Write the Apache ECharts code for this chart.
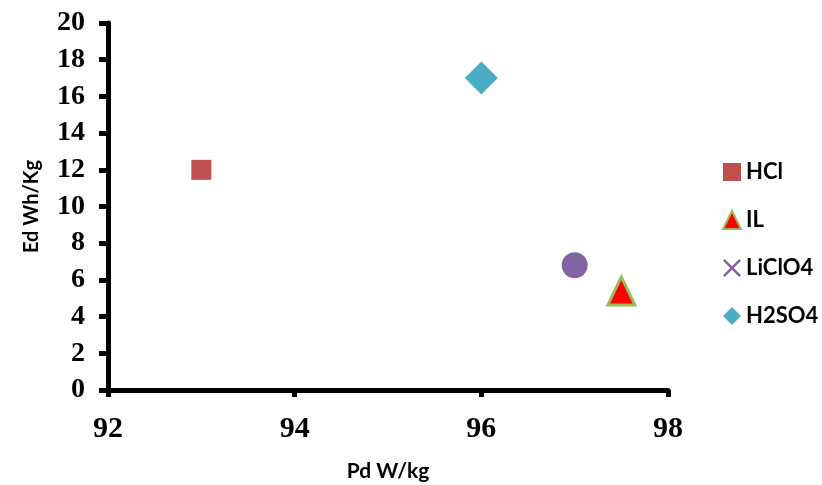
<!DOCTYPE html>
<html>
<head>
<meta charset="utf-8">
<script src="https://cdn.jsdelivr.net/npm/echarts@6/dist/echarts.min.js"></script>
<style>html,body{margin:0;padding:0;background:#fff}#c{width:822px;height:485px}</style>
</head>
<body>
<div id="c"></div>
<script>
const seriesNames = ['HCl', 'IL', 'LiClO4', 'H2SO4'];
const hclData = [[93, 12]];
const ilData = [[97.5, 5.4]];
const liclo4Data = [[97, 6.8]];
const h2so4Data = [[96, 17]];
const xTicks = [92, 94, 96, 98];
const yTicks = [0, 2, 4, 6, 8, 10, 12, 14, 16, 18, 20];

const X_PATH = 'path://M0,1 L1,0 L5,4 L9,0 L10,1 L6,5 L10,9 L9,10 L5,6 L1,10 L0,9 L4,5 Z';
const chart = echarts.init(document.getElementById('c'), null, {renderer: 'canvas'});
const serif = '"Liberation Serif", "Times New Roman", serif';
const sans = 'Lato, "Open Sans", sans-serif';
chart.setOption({
  animation: false,
  backgroundColor: '#fff',
  grid: {left: 108, right: 154, top: 23, bottom: 95, containLabel: false, outerBoundsMode: 'none'},
  xAxis: {
    type: 'value', min: xTicks[0], max: xTicks[xTicks.length - 1], interval: 2,
    name: 'Pd W/kg', nameLocation: 'middle', nameGap: 71,
    nameTextStyle: {fontFamily: sans, fontWeight: 'bold', fontSize: 21, color: '#000'},
    axisLine: {show: true, lineStyle: {color: '#000', width: 5}},
    axisTick: {show: true, length: 7, lineStyle: {color: '#000', width: 5}},
    axisLabel: {margin: 24, fontFamily: serif, fontWeight: 'bold', fontSize: 30, color: '#000'},
    splitLine: {show: false}
  },
  yAxis: {
    type: 'value', min: yTicks[0], max: yTicks[yTicks.length - 1], interval: 2,
    name: 'Ed Wh/Kg', nameLocation: 'middle', nameGap: 66,
    nameTextStyle: {fontFamily: sans, fontWeight: 'bold', fontSize: 20, color: '#000'},
    axisLine: {show: true, lineStyle: {color: '#000', width: 5}},
    axisTick: {show: true, length: 9, lineStyle: {color: '#000', width: 5}},
    axisLabel: {margin: 23, fontFamily: serif, fontWeight: 'bold', fontSize: 28, color: '#000'},
    splitLine: {show: false}
  },
  legend: {
    orient: 'vertical', left: 717, top: 156, itemGap: 26, itemWidth: 18, itemHeight: 18,
    textStyle: {fontFamily: sans, fontWeight: 'bold', fontSize: 22, color: '#000'},
    data: [
      {name: seriesNames[0], icon: 'rect'},
      {name: seriesNames[1], icon: 'triangle', itemStyle: {color: '#ff0000', borderColor: '#9bbb59', borderWidth: 2}},
      {name: seriesNames[2], icon: X_PATH, itemStyle: {color: '#8064a2'}},
      {name: seriesNames[3], icon: 'diamond'}
    ]
  },
  series: [
    {name: seriesNames[0], type: 'scatter', data: hclData, symbol: 'rect', symbolSize: 20,
     itemStyle: {color: '#c0504d', opacity: 1}},
    {name: seriesNames[1], type: 'scatter', data: ilData, symbol: 'triangle', symbolSize: [27, 28],
     itemStyle: {color: '#ff0000', borderColor: '#9bbb59', borderWidth: 3, opacity: 1}},
    {name: seriesNames[2], type: 'scatter', data: liclo4Data, symbol: 'circle', symbolSize: 26,
     itemStyle: {color: '#8064a2', opacity: 1}},
    {name: seriesNames[3], type: 'scatter', data: h2so4Data, symbol: 'diamond', symbolSize: 33,
     itemStyle: {color: '#4bacc6', opacity: 1}}
  ]
});
</script>
</body>
</html>
